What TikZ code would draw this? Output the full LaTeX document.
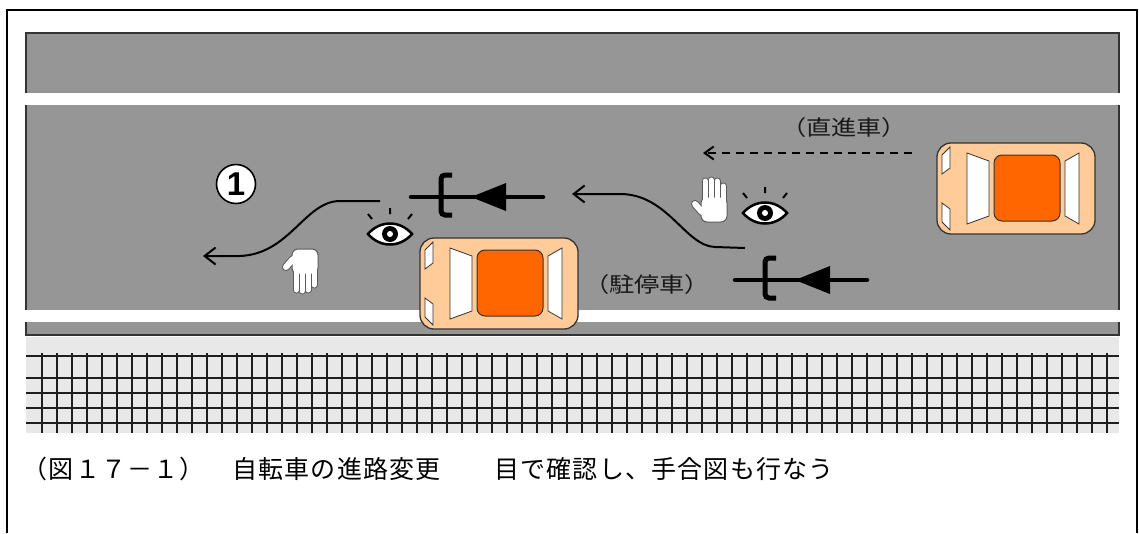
\documentclass[tikz,border=0pt]{standalone}
\usepackage{fontspec}
\newfontfamily\jpfont{Noto Sans CJK JP}
\newfontfamily\jpwide[FakeStretch=1.2]{Noto Sans CJK JP}
\newfontfamily\numfont{Liberation Sans}
\usetikzlibrary{arrows.meta}

\definecolor{roadgray}{RGB}{150,150,150}
\definecolor{walkgray}{RGB}{232,232,232}
\definecolor{carbody}{RGB}{255,204,153}
\definecolor{carroof}{RGB}{255,102,0}
\definecolor{carline}{RGB}{51,51,51}
\definecolor{handline}{RGB}{90,90,90}
\definecolor{gridline}{RGB}{30,30,30}

% set each character of #2 in a box of width #1
\newcommand\spacedchars[2]{\def\spcw{#1}\spcloop#2\relax}
\def\spcloop#1{\ifx\relax#1\else\makebox[\spcw][c]{#1}\expandafter\spcloop\fi}

\tikzset{
  route/.style={line width=2pt, -{Straight Barb[length=11pt,width=17pt]}},
  dashroute/.style={line width=2pt, dash pattern=on 8pt off 6pt,
    -{Straight Barb[length=9pt,width=13pt]}},
  lbl/.style={inner sep=0pt, text=black!90, font=\jpwide\fontsize{21}{21}\selectfont},
  captext/.style={inner sep=0pt, anchor=west, text=black, font=\jpfont\fontsize{25}{25}\selectfont},
  circnum/.style={circle, draw, fill=white, line width=1.6pt, minimum size=39pt,
    inner sep=0pt, font=\numfont\bfseries\fontsize{33}{33}\selectfont},
  % car seen from above, nose to the left; origin at the top-left corner
  car/.pic={
    \filldraw[fill=carbody, draw=carline, line width=1.3pt, rounded corners=14pt] (0,0) rectangle (158,91);
    \filldraw[fill=white, draw=carline, line width=0.8pt] (5,12) -- (13,4) -- (13,25) -- (5,31) -- cycle;
    \filldraw[fill=white, draw=carline, line width=0.8pt] (5,79) -- (13,87) -- (13,66) -- (5,60) -- cycle;
    \filldraw[fill=white, draw=carline, line width=0.8pt] (30,10) -- (52,18) -- (52,73) -- (30,81) -- cycle;
    \filldraw[fill=carroof, draw=carline, line width=1pt, rounded corners=8pt] (57,12) rectangle (123,78);
    \filldraw[fill=white, draw=carline, line width=0.8pt] (128,18) -- (142,10) -- (142,81) -- (128,73) -- cycle;
  },
  % bicycle symbol; origin at the left end of its line
  bikesym/.pic={
    \draw[line width=4.5pt, line cap=round] (0,0) -- (132,0);
    \draw[line width=5pt, rounded corners=4pt] (41,-22) -- (30,-22) -- (30,18) -- (41,18);
    \fill (60,0) -- (95,-14) -- (95,14) -- cycle;
  },
  % looking eye; origin at the pupil
  eye/.pic={
    \draw[line width=2pt] (0,-26) -- (0,-20) (-22,-20) -- (-18,-15) (22,-20) -- (18,-15);
    \filldraw[fill=white, line width=2.5pt] (-22,0) .. controls (-10,-14) and (10,-14) .. (22,0)
      .. controls (10,14) and (-10,14) .. cycle;
    \fill (0,0) circle[radius=8pt];
    \fill[white] (0,0) circle[radius=3pt];
  },
  % hand signal, fingers up; origin at the middle
  hand/.pic={
    \draw[handline, line width=8pt, line cap=round] (-8,12) -- (-15,4);
    \foreach \fx/\ft in {-5/-19, 1/-20, 7/-19, 13/-14}
      \draw[handline, line width=7pt, line cap=round] (\fx,\ft) -- (\fx,2);
    \filldraw[fill=white, draw=handline, line width=1pt, rounded corners=6pt] (-9,-3) rectangle (17,22);
    \draw[white, line width=6pt, line cap=round] (-8,12) -- (-15,4);
    \foreach \fx/\ft in {-5/-19, 1/-20, 7/-19, 13/-14}
      \draw[white, line width=5pt, line cap=round] (\fx,\ft) -- (\fx,4);
  },
}

\begin{document}
\begin{tikzpicture}[x=1pt,y=-1pt]
\useasboundingbox (0,0) rectangle (1139,533);
\fill[white] (0,0) rectangle (1139,533);

% frame
\draw[line width=2pt] (7,533) -- (7,10) -- (1137,10) -- (1137,533);

% road with lane lines
\filldraw[fill=roadgray, draw=carline, line width=1.5pt] (26,33) rectangle (1119,335);
\fill[white] (25,93) rectangle (1120,105);
\fill[white] (25,310) rectangle (1120,322);

% pavement
\fill[walkgray] (26,336.5) rectangle (1119,433);
\foreach \gy in {356,378,393,408,423}
  \draw[gridline, line width=2pt] (26,\gy) -- (1119,\gy);
\foreach \k in {1,...,72}
  \draw[gridline, line width=2pt] ({26.7+15*\k},353) -- ({26.7+15*\k},433);

% vehicles
\pic at (420,238) {car};
\pic at (937,143) {car};

% bicycles
\pic at (411,197) {bikesym};
\pic at (735,280) {bikesym};

% routes
\coordinate (r1s) at (380,201);
\coordinate (r1e) at (203,256);
\draw[route] (r1s) -- (340,201) .. controls (305,201) and (290,254) .. (240,256) -- (r1e);
\coordinate (r2s) at (745,248);
\coordinate (r2e) at (572,194);
\draw[route] (r2s) -- (715,247) .. controls (685,246) and (668,194) .. (620,194) -- (r2e);
\coordinate (d1) at (912,153);
\coordinate (d2) at (703,153);
\draw[dashroute] (d1) -- (d2);

% checks and signals
\pic at (390,234) {eye};
\pic at (765,213) {eye};
\pic at (710,200) {hand};
\pic[yscale=-1] at (301,271) {hand};

% labels
\node[circnum] (num) at (236,184) {1};
\node[lbl] (straight) at (844,128) {\spacedchars{25pt}{（直進車）}};
\node[lbl] (parked) at (647,285) {\spacedchars{25pt}{（駐停車）}};
\node[captext] (cap) at (22,469)
  {\spacedchars{26.2pt}{（図１７－１）　自転車の進路変更　　目で確認し、手合図も行なう}};
\end{tikzpicture}
\end{document}
